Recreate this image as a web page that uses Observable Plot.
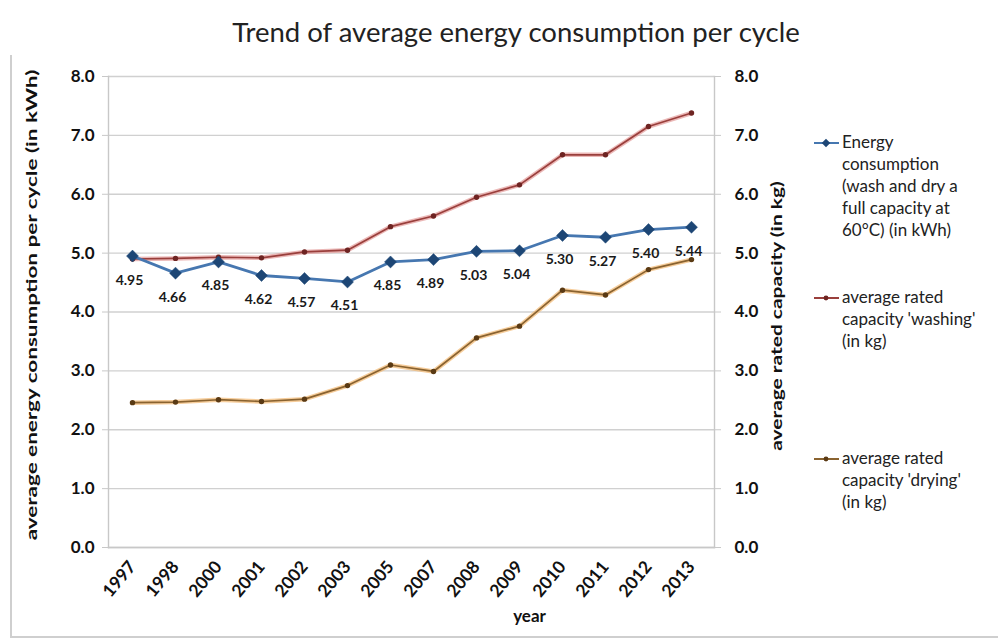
<!DOCTYPE html>
<html>
<head>
<meta charset="utf-8">
<script src="https://cdn.jsdelivr.net/npm/d3@7"></script>
<script src="https://cdn.jsdelivr.net/npm/@observablehq/plot@0.6"></script>
<style>
  html, body { margin: 0; padding: 0; background: #fff; }
  #wrap { position: relative; width: 998px; height: 640px; overflow: hidden; font-family: Lato, "Open Sans", sans-serif; color: #1a1a1a; }
  #title { position: absolute; left: 0; width: 1032px; top: 15px; text-align: center; font-size: 27.5px; color: #222; }
  .ylab { position: absolute; left: 0; top: 0; font-weight: bold; font-size: 15.5px; white-space: nowrap; color: #111; }
  #legend { position: absolute; left: 814px; top: 131px; font-size: 17px; color: #222; }
  .leg { position: absolute; left: 0; white-space: nowrap; }
  .leg .txt { position: absolute; left: 28px; top: 0; line-height: 22px; }
  .border { position: absolute; background: #cfcfcf; }
</style>
</head>
<body>
<div id="wrap">
  <div class="border" style="left:10px; top:55px; width:1.5px; height:582px;"></div>
  <div class="border" style="left:10px; top:636px; width:988px; height:1.5px;"></div>
  <div id="title">Trend of average energy consumption per cycle</div>
  <div id="chart"></div>
  <div class="ylab" id="ylabL">average energy consumption per cycle (in kWh)</div>
  <div class="ylab" id="ylabR">average rated capacity (in kg)</div>
  <div id="legend"></div>
</div>
<script>
const years = ["1997","1998","2000","2001","2002","2003","2005","2007","2008","2009","2010","2011","2012","2013"];
const energy = [4.95, 4.66, 4.85, 4.62, 4.57, 4.51, 4.85, 4.89, 5.03, 5.04, 5.30, 5.27, 5.40, 5.44];
const washing = [4.90, 4.91, 4.93, 4.92, 5.02, 5.05, 5.45, 5.63, 5.95, 6.16, 6.67, 6.67, 7.15, 7.38];
const drying = [2.46, 2.47, 2.51, 2.48, 2.52, 2.75, 3.10, 2.99, 3.56, 3.76, 4.37, 4.29, 4.72, 4.89];
const yTicks = [0, 1, 2, 3, 4, 5, 6, 7, 8];
const seriesNames = [
  ["Energy", "consumption", "(wash and dry a", "full capacity at", "60°C) (in kWh)"],
  ["average rated", "capacity 'washing'", "(in kg)"],
  ["average rated", "capacity 'drying'", "(in kg)"]
];

const eData = years.map((y, i) => ({year: y, v: energy[i]}));
const wData = years.map((y, i) => ({year: y, v: washing[i]}));
const dData = years.map((y, i) => ({year: y, v: drying[i]}));

const blue = "#4677b0", blueDark = "#1d4675";
const redHalo = "#e29a98", redCore = "#9a3f3c", redDot = "#6e2422";
const orHalo = "#f2b870", orCore = "#8a6330", orDot = "#5a3a14";

const plot = Plot.plot({
  width: 998,
  height: 640,
  marginTop: 76,
  marginBottom: 93,
  marginLeft: 108,
  marginRight: 284,
  style: {fontFamily: "Lato, 'Open Sans', sans-serif", background: "transparent", color: "#111"},
  x: {type: "point", domain: years, padding: 0.5, label: null},
  y: {domain: [0, 8], label: null},
  marks: [
    Plot.gridY(yTicks, {stroke: "#d0d0d0", strokeOpacity: 1, strokeWidth: 1.4}),
    Plot.axisY(yTicks, {anchor: "left", tickFormat: d3.format(".1f"), fontSize: 17, fontWeight: "bold", tickSize: 6, tickPadding: 8, stroke: "#c8c8c8", label: null}),
    Plot.axisY(yTicks, {anchor: "right", tickFormat: d3.format(".1f"), fontSize: 17, fontWeight: "bold", tickSize: 6, tickPadding: 14, stroke: "#c8c8c8", label: null}),
    Plot.axisX({tickRotate: -50, fontSize: 17.5, fontWeight: "bold", tickSize: 0, tickPadding: 16, label: null}),
    Plot.frame({anchor: "left", stroke: "#c8c8c8", strokeWidth: 1.4}),
    Plot.frame({anchor: "right", stroke: "#c8c8c8", strokeWidth: 1.4}),
    Plot.frame({anchor: "bottom", stroke: "#c8c8c8", strokeWidth: 1.4}),
    // drying
    Plot.line(dData, {x: "year", y: "v", stroke: orHalo, strokeWidth: 4.5, strokeOpacity: 0.7}),
    Plot.line(dData, {x: "year", y: "v", stroke: orCore, strokeWidth: 1.7}),
    Plot.dot(dData, {x: "year", y: "v", r: 2.7, fill: orDot}),
    // washing
    Plot.line(wData, {x: "year", y: "v", stroke: redHalo, strokeWidth: 4.5, strokeOpacity: 0.7}),
    Plot.line(wData, {x: "year", y: "v", stroke: redCore, strokeWidth: 1.7}),
    Plot.dot(wData, {x: "year", y: "v", r: 2.7, fill: redDot}),
    // energy
    Plot.line(eData, {x: "year", y: "v", stroke: blue, strokeWidth: 2.8}),
    Plot.dot(eData, {x: "year", y: "v", symbol: "diamond2", r: 5.4, fill: blueDark, stroke: blueDark, strokeWidth: 0.5}),
    Plot.text(eData, {x: "year", y: "v", text: d => d.v.toFixed(2), dx: -3, dy: 24, fontSize: 14, fontWeight: "bold", fill: "#1a1a1a"}),
    Plot.text(["year"], {frameAnchor: "bottom", dx: 118, dy: 74, text: d => d, fontSize: 17, fontWeight: "bold", fill: "#111"})
  ]
});
document.getElementById("chart").appendChild(plot);

// axis titles: centred and stretched to the reference's length
function placeTitle(el, cx, cy, len) {
  const w = el.offsetWidth, h = el.offsetHeight;
  el.style.left = (cx - w / 2) + "px";
  el.style.top = (cy - h / 2) + "px";
  el.style.transform = `rotate(-90deg) scaleX(${len / w})`;
}
placeTitle(document.getElementById("ylabL"), 31, 305, 470);
placeTitle(document.getElementById("ylabR"), 776, 316, 270);

// legend
const legend = document.getElementById("legend");
const legTops = [0, 155, 316];
const legStyles = [
  {line: blue, dot: blueDark, diamond: true},
  {line: redCore, dot: redDot, diamond: false},
  {line: orCore, dot: orDot, diamond: false}
];
seriesNames.forEach((lines, i) => {
  const div = document.createElement("div");
  div.className = "leg";
  div.style.top = legTops[i] + "px";
  const st = legStyles[i];
  const marker = st.diamond
    ? `<rect x="9" y="8" width="6" height="6" fill="${st.dot}" transform="rotate(45 12 11)"/>`
    : `<circle cx="12" cy="11" r="2.4" fill="${st.dot}"/>`;
  div.innerHTML = `<svg width="26" height="22" style="position:absolute;left:0;top:1px"><line x1="0" x2="25" y1="11" y2="11" stroke="${st.line}" stroke-width="2"/>${marker}</svg>` +
    `<div class="txt">${lines.join("<br>")}</div>`;
  legend.appendChild(div);
});
</script>
</body>
</html>
